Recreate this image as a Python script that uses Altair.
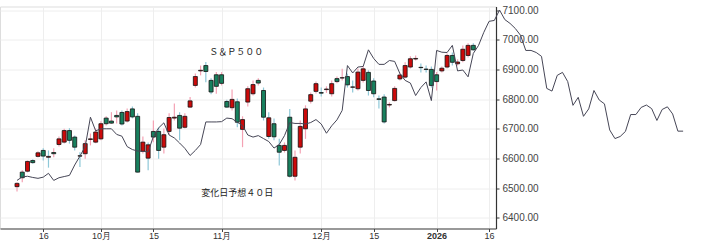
import altair as alt
import numpy as np
import pandas as pd

# ---- data (trading-day index: 0 = Sep 16, 2025) ----
candle_first_day = -5
opens = [6505, 6554, 6557, 6593, 6607, 6627, 6604, 6620, 6647, 6655,
         6694, 6672, 6608, 6616, 6664, 6655, 6666, 6736, 6726, 6745,
         6755, 6726, 6767, 6742, 6624, 6601, 6691, 6691, 6638, 6691,
         6736, 6745, 6705, 6773, 6846, 6895, 6913, 6863, 6882, 6882,
         6792, 6771, 6791, 6698, 6790, 6818, 6863, 6829, 6674, 6717,
         6644, 6627, 6739, 6540, 6638, 6700, 6793, 6826, 6822, 6832,
         6818, 6869, 6871, 6876, 6840, 6835, 6863, 6890, 6861, 6801,
         6807, 6780, 6795, 6868, 6874, 6908, 6935, 6907, 6901, 6900,
         6882, 6895, 6908, 6947, 6919, 6930, 6947, 6981]
highs = [6520, 6560, 6593, 6597, 6624, 6634, 6627, 6634, 6674, 6700,
         6702, 6677, 6621, 6661, 6684, 6701, 6725, 6742, 6756, 6762,
         6762, 6768, 6775, 6752, 6674, 6654, 6728, 6705, 6701, 6752,
         6785, 6756, 6752, 6807, 6886, 6913, 6925, 6870, 6891, 6891,
         6798, 6832, 6802, 6742, 6843, 6863, 6870, 6839, 6756, 6735,
         6666, 6654, 6767, 6627, 6728, 6779, 6822, 6859, 6839, 6843,
         6863, 6876, 6902, 6886, 6863, 6903, 6910, 6897, 6870, 6812,
         6816, 6789, 6843, 6890, 6924, 6944, 6947, 6920, 6913, 6910,
         6891, 6910, 6954, 6957, 6934, 6981, 6988, 6988]
lows = [6489, 6520, 6553, 6582, 6603, 6593, 6569, 6604, 6640, 6650,
        6650, 6627, 6571, 6599, 6644, 6651, 6661, 6711, 6716, 6718,
        6711, 6721, 6735, 6553, 6617, 6560, 6655, 6599, 6617, 6681,
        6728, 6661, 6701, 6771, 6839, 6880, 6857, 6816, 6818, 6846,
        6771, 6762, 6705, 6638, 6775, 6812, 6846, 6728, 6666, 6661,
        6576, 6620, 6536, 6526, 6617, 6666, 6785, 6819, 6809, 6821,
        6809, 6853, 6863, 6839, 6822, 6829, 6856, 6812, 6806, 6768,
        6718, 6772, 6792, 6863, 6870, 6903, 6930, 6890, 6890, 6839,
        6829, 6890, 6903, 6913, 6913, 6924, 6940, 6964]
closes = [6516, 6535, 6590, 6586, 6619, 6608, 6607, 6616, 6666, 6694,
          6661, 6638, 6609, 6650, 6666, 6689, 6717, 6717, 6719, 6740,
          6716, 6758, 6740, 6554, 6655, 6646, 6672, 6627, 6680, 6738,
          6739, 6702, 6742, 6794, 6876, 6897, 6893, 6824, 6843, 6853,
          6773, 6799, 6722, 6731, 6835, 6849, 6854, 6739, 6737, 6673,
          6621, 6644, 6540, 6604, 6708, 6767, 6815, 6852, 6820, 6834,
          6852, 6859, 6872, 6848, 6841, 6891, 6902, 6829, 6818, 6799,
          6723, 6782, 6836, 6881, 6913, 6936, 6937, 6906, 6900, 6846,
          6859, 6904, 6947, 6924, 6925, 6968, 6981, 6966]

line_first_day = -5
forecast = [6526, 6538, 6540, 6536, 6533, 6537, 6550, 6526, 6535, 6539,
            6543, 6578, 6608, 6640, 6739, 6693, 6700, 6700, 6700, 6681,
            6675, 6640, 6630, 6625, 6624, 6622, 6674, 6703, 6720, 6679,
            6669, 6652, 6634, 6610, 6627, 6647, 6723, 6723, 6723, 6724,
            6736, 6734, 6722, 6711, 6679, 6672, 6677, 6667, 6657, 6635,
            6647, 6677, 6721, 6718, 6718, 6716, 6721, 6731, 6716, 6685,
            6710, 6730, 6762, 6913, 6888, 6908, 6910, 6966, 6937, 6917,
            6917, 6930, 6927, 6886, 6863, 6854, 6812, 6839, 6858, 6795,
            6964, 6958, 6957, 6981, 6895, 6898, 6875, 6954, 6981, 7025,
            7062, 7065, 7100, 7068, 7055, 7038, 7015, 6964, 6964, 6957,
            6944, 6836, 6827, 6880, 6890, 6859, 6779, 6806, 6742, 6767,
            6829, 6797, 6784, 6696, 6667, 6674, 6691, 6748, 6748, 6772,
            6780, 6768, 6728, 6765, 6774, 6750, 6692, 6692]

tick_days = [0, 11, 21, 34, 53, 63, 75, 85]
tick_labels = ["16", "10月", "15", "11月", "12月", "15", "2026", "16"]
y_ticks = [6400, 6500, 6600, 6700, 6800, 6900, 7000, 7100]
series_names = ["Ｓ＆Ｐ５００", "変化日予想４０日"]

# ---- tables ----
candles = pd.DataFrame({
    "day": np.arange(candle_first_day, candle_first_day + len(opens)),
    "open": opens, "high": highs, "low": lows, "close": closes,
})
candles["dir"] = np.where(candles["close"] >= candles["open"], "up", "down")
prev_close = candles["close"].shift(1).fillna(candles["open"])
candles["wick"] = np.where(candles["close"] >= prev_close, "up", "down")

line_df = pd.DataFrame({
    "day": np.arange(line_first_day, line_first_day + len(forecast)),
    "value": forecast,
})

label_expr = " : ".join(
    f"datum.value == {d} ? '{t}'" for d, t in zip(tick_days, tick_labels)
) + " : ''"
bold_day = tick_days[tick_labels.index("2026")]

x_scale = alt.Scale(domain=[-7.29, 85.37], nice=False, zero=False)
y_scale = alt.Scale(domain=[6364, 7112], nice=False, zero=False)

x_axis = alt.Axis(
    values=tick_days, labelExpr=label_expr, title=None, labelOverlap=False,
    grid=True, gridColor="#eeeeee", domainColor="#444444", domainWidth=1.2,
    tickColor="#444444", tickSize=3, labelFontSize=9, labelColor="#333333",
    labelFlush=False, labelPadding=0, labelFont="Liberation Sans",
    labelFontWeight={"condition": {"test": f"datum.value == {bold_day}", "value": "bold"},
                     "value": "normal"},
)
y_axis = alt.Axis(
    orient="right", values=y_ticks, format=".2f", title=None, labelOverlap=False,
    tickCount=len(y_ticks), grid=True, gridColor="#eeeeee", domainColor="#333333",
    domainWidth=1.2, tickColor="#333333", tickSize=3, labelFontSize=10,
    labelColor="#444444", labelPadding=3, labelFont="Liberation Sans",
)

base = alt.Chart(candles)

wicks = base.mark_rule(strokeWidth=1.2).encode(
    x=alt.X("day:Q", scale=x_scale, axis=x_axis),
    y=alt.Y("low:Q", scale=y_scale, axis=y_axis),
    y2="high:Q",
    color=alt.Color("wick:N", scale=alt.Scale(domain=["up", "down"],
                                              range=["#f4a2b4", "#8ec8d8"]), legend=None),
)

bodies = base.mark_bar(size=4, stroke="#111111", strokeWidth=0.8).encode(
    x=alt.X("day:Q", scale=x_scale, axis=x_axis),
    y=alt.Y("open:Q", scale=y_scale, axis=y_axis),
    y2="close:Q",
    fill=alt.Fill("dir:N", scale=alt.Scale(domain=["up", "down"],
                                           range=["#cc0a0a", "#18805e"]), legend=None),
)

line = alt.Chart(line_df).mark_line(color="#464656", strokeWidth=1).encode(
    x=alt.X("day:Q", scale=x_scale, axis=x_axis),
    y=alt.Y("value:Q", scale=y_scale, axis=y_axis),
)

label1 = alt.Chart().mark_text(font="Noto Sans CJK JP", fontSize=9, color="#222222",
                               align="center", baseline="middle").encode(
    x=alt.datum(36.8), y=alt.datum(6960), text=alt.value(series_names[0]))
label2 = alt.Chart().mark_text(font="Noto Sans CJK JP", fontSize=9, color="#222222",
                               align="center", baseline="middle").encode(
    x=alt.datum(37.0), y=alt.datum(6482), text=alt.value(series_names[1]))

chart = alt.layer(wicks, bodies, line, label1, label2).properties(
    width=496, height=222,
    padding={"left": 0, "top": 4.5, "right": 4, "bottom": 2},
).configure_view(strokeWidth=0).configure(background="white").configure_axis(
    labelOverlap=False
)

chart.save("out.html", embed_options={"renderer": "svg", "actions": False})
